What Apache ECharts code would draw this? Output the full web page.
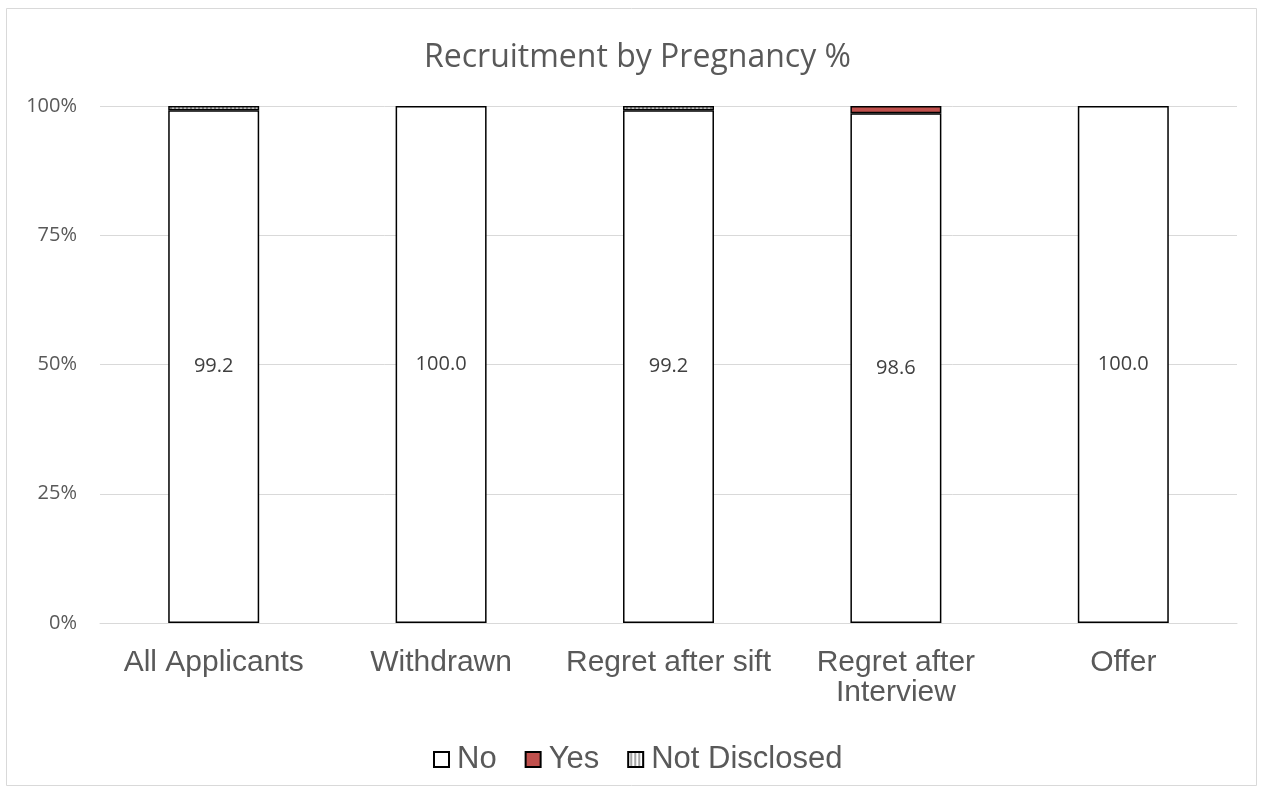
<!DOCTYPE html>
<html><head><meta charset="utf-8">
<script src="https://cdn.jsdelivr.net/npm/echarts@6/dist/echarts.min.js"></script>
<style>html,body{margin:0;padding:0;background:#fff}#c{width:1263px;height:794px}</style>
</head><body><div id="c"></div>
<script>
const categories = ['All Applicants', 'Withdrawn', 'Regret after sift', 'Regret after\nInterview', 'Offer'];
const noValues = [99.2, 100.0, 99.2, 98.6, 100.0];
const yesValues = [0, 0, 0, 1.4, 0];
const notDisclosedValues = [0.8, 0, 0.8, 0, 0];
const yTicks = [0, 25, 50, 75, 100];

const nz = arr => arr.map(v => v === 0 ? '-' : v);

const pc = document.createElement('canvas');
pc.width = 4; pc.height = 4;
const pctx = pc.getContext('2d');
pctx.fillStyle = '#ffffff'; pctx.fillRect(0, 0, 4, 4);
pctx.fillStyle = '#a6a6a6'; pctx.fillRect(2, 0, 2, 4);

const chart = echarts.init(document.getElementById('c'), null, {renderer: 'canvas'});
const arial = 'Liberation Sans, Arial, sans-serif';
const calibri = 'Open Sans, sans-serif';
chart.setOption({
  animation: false,
  backgroundColor: '#fff',
  graphic: [{type: 'rect', shape: {x: 6.5, y: 8.5, width: 1250, height: 777}, style: {fill: 'none', stroke: '#d9d9d9', lineWidth: 1}, z: -1}],
  title: {text: 'Recruitment by Pregnancy %', left: 419, top: 37, textStyle: {fontFamily: calibri, fontSize: 32, fontWeight: 'normal', color: '#595959'}},
  legend: {bottom: 14, left: 428, itemWidth: 15, itemHeight: 15, itemGap: 28, icon: 'rect',
    textStyle: {fontFamily: arial, fontSize: 31, color: '#595959', padding: [0, 0, 0, 3]},
    data: ['No', 'Yes', 'Not Disclosed']},
  grid: {left: 100, right: 26, top: 106, bottom: 171},
  xAxis: {type: 'category', data: categories,
    axisLine: {lineStyle: {color: '#d9d9d9', width: 1}}, axisTick: {show: false},
    axisLabel: {fontFamily: arial, fontSize: 30, color: '#595959', margin: 25, lineHeight: 30, interval: 0}},
  yAxis: {type: 'value', min: 0, max: 100, interval: 25,
    axisLine: {show: false}, axisTick: {show: false},
    splitLine: {lineStyle: {color: '#d9d9d9', width: 1}},
    axisLabel: {fontFamily: calibri, fontSize: 20, color: '#595959', margin: 23, formatter: v => yTicks.includes(v) ? v + '%' : ''}},
  series: [
    {name: 'No', type: 'bar', stack: 's', barWidth: '40%', data: noValues,
      itemStyle: {color: '#ffffff', borderColor: '#000', borderWidth: 1.5},
      label: {show: true, position: 'inside', formatter: p => p.value.toFixed(1), fontFamily: calibri, fontSize: 20, color: '#404040'}},
    {name: 'Yes', type: 'bar', stack: 's', data: nz(yesValues),
      itemStyle: {color: '#c0504d', borderColor: '#000', borderWidth: 1.5}},
    {name: 'Not Disclosed', type: 'bar', stack: 's', data: nz(notDisclosedValues),
      itemStyle: {color: {image: pc, repeat: 'repeat'}, borderColor: '#000', borderWidth: 1.5}}
  ]
});
</script></body></html>
